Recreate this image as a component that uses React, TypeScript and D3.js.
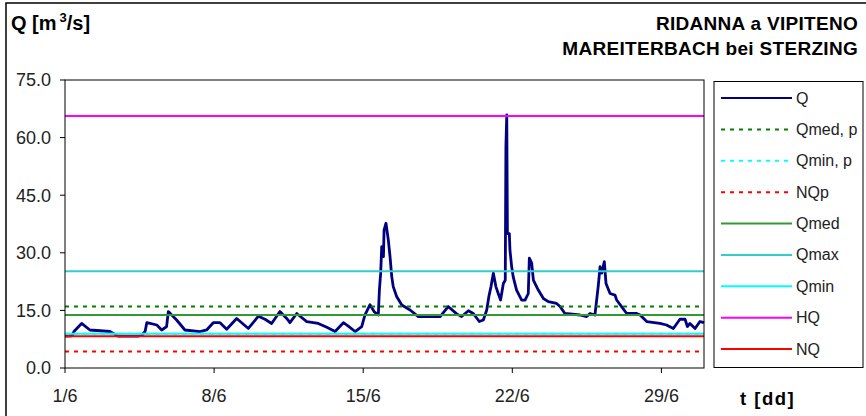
import React from "react";
import * as d3 from "d3";

// discharge Q, June: [day offset from 1/6 00:00, m3/s]
const qSeries: [number, number][] = [
  [0, 8.3], [0.33, 8.4], [0.42, 9.5], [0.78, 11.6], [1.17, 9.9], [2.11, 9.5], [2.49, 8.3],
  [3.43, 8.3], [3.62, 8.6], [3.76, 9.5], [3.84, 11.8], [4.31, 11.2], [4.54, 9.9], [4.77, 10.8],
  [4.85, 14.7], [5.08, 13.4], [5.24, 12.5], [5.63, 9.9], [6.34, 9.5], [6.65, 9.9], [6.96, 11.8],
  [7.28, 11.8], [7.59, 10.1], [8.06, 12.9], [8.61, 10.3], [9.08, 13.5], [9.39, 12.7], [9.7, 11.6],
  [10.09, 14.7], [10.41, 12.9], [10.56, 11.8], [10.88, 14.2], [11.35, 12.1], [11.89, 11.6],
  [12.29, 10.6], [12.68, 9.5], [13.07, 11.8], [13.3, 10.9], [13.62, 9.5], [13.93, 10.8],
  [14.08, 13.8], [14.32, 16.5], [14.51, 14.7], [14.71, 13.8], [14.76, 20.3], [14.82, 24.7],
  [14.87, 31.6], [14.95, 29], [14.98, 35.9], [15.07, 37.7], [15.18, 33.3], [15.26, 29],
  [15.34, 23.8], [15.41, 21.2], [15.57, 18.6], [15.81, 16.4], [16.2, 15.1], [16.59, 13.4],
  [17.61, 13.4], [17.99, 16.0], [18.39, 14.1], [18.62, 13.4], [18.94, 14.9], [19.17, 14.2],
  [19.45, 12.1], [19.64, 12.5], [19.8, 15.1], [19.9, 18.6], [20.0, 21.2], [20.11, 24.7],
  [20.23, 21.2], [20.34, 19.4], [20.45, 17.7], [20.58, 22.0], [20.67, 22.9], [20.7, 57.6],
  [20.74, 65.9], [20.77, 35.0], [20.86, 35.0], [20.89, 30.7], [20.97, 26.4], [21.04, 23.8],
  [21.2, 20.3], [21.44, 17.7], [21.6, 17.7], [21.75, 19.4], [21.8, 28.6], [21.91, 27.3],
  [21.99, 22.9], [22.22, 20.3], [22.46, 18.1], [22.69, 17.3], [23.08, 16.8], [23.24, 16.0],
  [23.47, 14.2], [24.18, 13.8], [24.49, 13.4], [24.65, 14.2], [24.88, 13.8], [25.04, 21.6],
  [25.12, 26.4], [25.2, 24.7], [25.32, 27.7], [25.4, 22.0], [25.59, 19.4], [25.82, 19.0],
  [25.9, 17.7], [26.13, 16.0], [26.37, 14.2], [26.84, 14.2], [27.0, 13.8], [27.31, 12.1],
  [27.93, 11.6], [28.24, 11.2], [28.56, 10.3], [28.87, 12.7], [29.11, 12.7], [29.22, 10.8],
  [29.34, 11.6], [29.58, 10.3], [29.81, 12.1], [30.0, 11.8],
];

// reference levels, drawn in legend order
const refNames = ["Qmed, p", "Qmin, p", "NQp", "Qmed", "Qmax", "Qmin", "HQ", "NQ"];
const refValues = [16.0, 8.9, 4.3, 13.8, 25.2, 8.9, 65.6, 8.3];
const refColors = ["#008000", "#00FFFF", "#FF0000", "#339933", "#33CCCC", "#00FFFF", "#FF00FF", "#FF0000"];
const refDashed = [true, true, true, false, false, false, false, false];

const yTicks = [0, 15, 30, 45, 60, 75];
const xTickDays = [0, 7, 14, 21, 28];
const xTickLabels = ["1/6", "8/6", "15/6", "22/6", "29/6"];

const W = 866, H = 416;
const plot = { left: 65, top: 80, right: 704, bottom: 368 };
const font = "'Liberation Sans', Arial, sans-serif";

export default function App() {
  const x = d3.scaleLinear().domain([0, 30]).range([plot.left, plot.right]);
  const y = d3.scaleLinear().domain([0, 75]).range([plot.bottom, plot.top]);
  const line = d3.line<[number, number]>().x(d => x(d[0])).y(d => y(d[1]));

  const legendNames = ["Q", ...refNames];
  const legendColors = ["#000080", ...refColors];
  const legendDashed = [false, ...refDashed];
  const ly = d3.scalePoint<number>().domain(d3.range(legendNames.length)).range([98, 349]);

  return (
    <svg width={W} height={H} style={{ position: "absolute", left: 0, top: 0, background: "#fff" }} fontFamily={font}>
      <rect x={6} y={3} width={W + 10} height={H + 10} fill="#fff" stroke="#000" strokeWidth={1.5} />

      {/* titles */}
      <text x={11} y={30} fontSize={20} fontWeight="bold">
        Q [m<tspan dx={3} dy={-8} fontSize={13}>3</tspan><tspan dy={8}>/s]</tspan>
      </text>
      <text x={858} y={30} fontSize={19} fontWeight="bold" textAnchor="end" letterSpacing={0.3}>RIDANNA a VIPITENO</text>
      <text x={858} y={55} fontSize={19} fontWeight="bold" textAnchor="end" letterSpacing={0.3}>MAREITERBACH bei STERZING</text>
      <text x={740} y={405} fontSize={18.5} fontWeight="bold" letterSpacing={1.5}>t [dd]</text>

      {/* Q series, reference levels drawn on top */}
      <path d={line(qSeries) ?? ""} fill="none" stroke="#000080" strokeWidth={2.8} strokeLinejoin="round" />
      {refValues.map((v, i) => (
        <line key={refNames[i]} x1={plot.left} x2={plot.right} y1={y(v)} y2={y(v)}
          stroke={refColors[i]} strokeWidth={2} strokeDasharray={refDashed[i] ? "4 5" : undefined} />
      ))}

      {/* frame + axes */}
      <rect x={plot.left} y={plot.top} width={plot.right - plot.left} height={plot.bottom - plot.top}
        fill="none" stroke="#000" strokeWidth={1} />
      {yTicks.map(t => (
        <g key={t}>
          <line x1={plot.left - 5} x2={plot.left} y1={y(t)} y2={y(t)} stroke="#000" />
          <text x={51} y={y(t)} dy="0.35em" fontSize={18} textAnchor="end" fill="#222">{t.toFixed(1)}</text>
        </g>
      ))}
      {xTickDays.map((d, i) => (
        <g key={d}>
          <line x1={x(d)} x2={x(d)} y1={plot.bottom} y2={plot.bottom + 5} stroke="#000" />
          <text x={x(d)} y={402} fontSize={18} textAnchor="middle" fill="#222">{xTickLabels[i]}</text>
        </g>
      ))}

      {/* legend */}
      <rect x={714} y={81.5} width={149} height={286} fill="#fff" stroke="#000" strokeWidth={1} />
      {legendNames.map((n, i) => (
        <g key={n}>
          <line x1={721} x2={792} y1={ly(i)!} y2={ly(i)!} stroke={legendColors[i]} strokeWidth={2}
            strokeDasharray={legendDashed[i] ? "4 5" : undefined} />
          <text x={796} y={ly(i)!} dy="0.35em" fontSize={16} fill="#222">{n}</text>
        </g>
      ))}
    </svg>
  );
}
